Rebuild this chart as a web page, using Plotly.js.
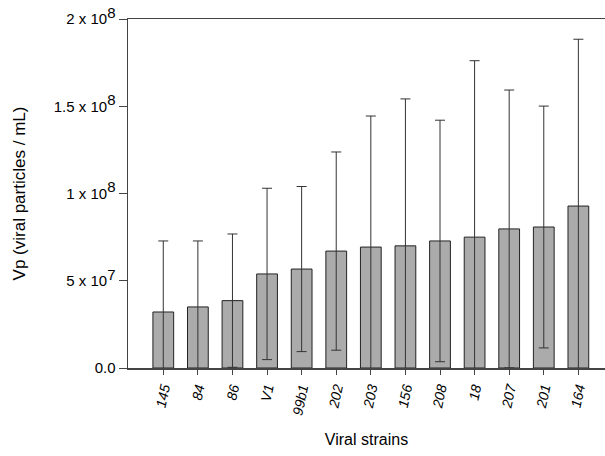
<!DOCTYPE html>
<html>
<head>
<meta charset="utf-8">
<script src="https://cdn.plot.ly/plotly-3.0.1.min.js"></script>
<style>html,body{margin:0;padding:0;background:#fff;}#chart{width:605px;height:456px;}</style>
</head>
<body>
<div id="chart"></div>
<script>
const strains = ["145","84","86","V1","99b1","202","203","156","208","18","207","201","164"];
const meanVp = [32.1e6, 35.0e6, 38.6e6, 53.9e6, 56.7e6, 67.0e6, 69.3e6, 70.0e6, 72.8e6, 75.0e6, 79.7e6, 80.8e6, 92.8e6];
const sdVp = [40.7e6, 37.8e6, 38.2e6, 49.1e6, 47.3e6, 56.8e6, 75.1e6, 84.2e6, 69.2e6, 101.1e6, 79.6e6, 69.3e6, 95.6e6];
const yTickVals = [0, 5e7, 1e8, 1.5e8, 2e8];
const yTickBase = ["0.0", "5 x 10", "1 x 10", "1.5 x 10", "2 x 10"];
const yTickExp = ["", "7", "8", "8", "8"];

const yTickText = yTickBase.map((b, i) => yTickExp[i] ? b + '<sup><span style="font-size:15px">' + yTickExp[i] + '</span></sup>' : b);

const trace = {
  type: "bar",
  x: strains,
  y: meanVp,
  width: 0.6,
  marker: {color: "#ababab", line: {color: "#222", width: 1}},
  error_y: {type: "data", array: sdVp, visible: true, color: "#333", thickness: 1, width: 5}
};

const layout = {
  width: 605, height: 456,
  margin: {l: 128, r: 0, t: 19, b: 88},
  paper_bgcolor: "#fff", plot_bgcolor: "#fff",
  showlegend: false,
  font: {family: "Liberation Sans, Arial, sans-serif", color: "#000"},
  xaxis: {
    type: "category",
    range: [-1.02, 12.77],
    showline: true, linecolor: "#444", linewidth: 1.5, mirror: true,
    ticks: "outside", ticklen: 5, tickcolor: "#444",
    tickangle: -78,
    tickfont: {size: 14, style: "italic"},
    showgrid: false, zeroline: false,
    title: {text: "Viral strains", font: {size: 16}, standoff: 18}
  },
  yaxis: {
    range: [0, 2e8],
    tickvals: yTickVals, ticktext: yTickText,
    showline: true, linecolor: "#444", linewidth: 1.5,
    ticks: "outside", ticklen: 8, tickcolor: "#444",
    tickfont: {size: 15},
    showgrid: false, zeroline: false,
    title: {text: "Vp (viral particles / mL)", font: {size: 17}, standoff: 24}
  }
};

Plotly.newPlot("chart", [trace], layout, {displayModeBar: false, staticPlot: true});
</script>
</body>
</html>
